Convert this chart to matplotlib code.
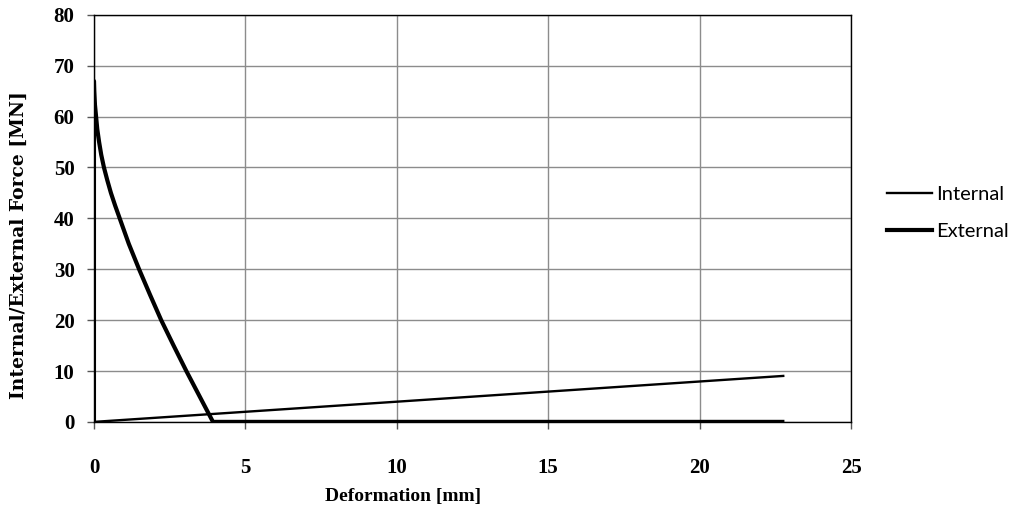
import matplotlib
matplotlib.use("Agg")
import matplotlib.pyplot as plt
from matplotlib.lines import Line2D

# Deformation [mm] and force [MN] series
internal_x = [0.0, 22.8]
internal_y = [0.0, 9.05]

external_x = [0.0, 0.0, 0.01, 0.03, 0.07, 0.11, 0.17, 0.24, 0.33, 0.44, 0.56,
              0.70, 0.85, 1.15, 1.49, 1.85, 2.22, 2.63, 3.05, 3.49, 3.93, 22.8]
external_y = [0.0, 67.0, 65.0, 62.5, 60.0, 57.5, 55.0, 52.5, 50.0, 47.5, 45.0,
              42.5, 40.0, 35.0, 30.0, 25.0, 20.0, 15.0, 10.0, 5.0, 0.0, 0.0]

x_ticks = [0, 5, 10, 15, 20, 25]
y_ticks = [0, 10, 20, 30, 40, 50, 60, 70, 80]

fig = plt.figure(figsize=(10.18, 5.12), dpi=100)
ax = fig.add_axes([0.0923, 0.176, 0.7437, 0.795])

ax.plot(internal_x, internal_y, color="black", lw=1.7, solid_capstyle="butt")
ax.plot(external_x, external_y, color="black", lw=3.0, solid_joinstyle="round",
        solid_capstyle="butt")

ax.set_xlim(0, 25)
ax.set_ylim(0, 80)
ax.set_xticks(x_ticks)
ax.set_yticks(y_ticks)
ax.grid(True, color="#8c8c8c", lw=1.0)
ax.set_axisbelow(True)
for s in ax.spines.values():
    s.set_color("black")
    s.set_linewidth(1.0)
ax.tick_params(direction="out", length=5, width=1, color="#555555")
ax.tick_params(axis="x", pad=21)
ax.tick_params(axis="y", pad=9)

serif = ["Liberation Serif", "DejaVu Serif"]
for lab in ax.get_xticklabels() + ax.get_yticklabels():
    lab.set_family(serif)
    lab.set_fontsize(15)
    lab.set_fontweight("bold")

ax.set_xlabel("Deformation [mm]", family=serif, fontsize=14, fontweight="bold")
ax.xaxis.set_label_coords(0.408, -0.163)
ax.set_ylabel("Internal/External Force [MN]", family=["DejaVu Serif"],
              fontsize=13.5, fontweight="bold")
ax.yaxis.set_label_coords(-0.087, 0.435)

handles = [Line2D([], [], color="black", lw=1.7),
           Line2D([], [], color="black", lw=3.0)]
leg = fig.legend(handles, ["Internal", "External"], loc="center left",
                 bbox_to_anchor=(0.854, 0.584), frameon=False,
                 prop={"family": "Lato", "size": 14.5},
                 handlelength=2.2, handletextpad=0.2, labelspacing=1.0)

fig.savefig("out.png", dpi=100)
